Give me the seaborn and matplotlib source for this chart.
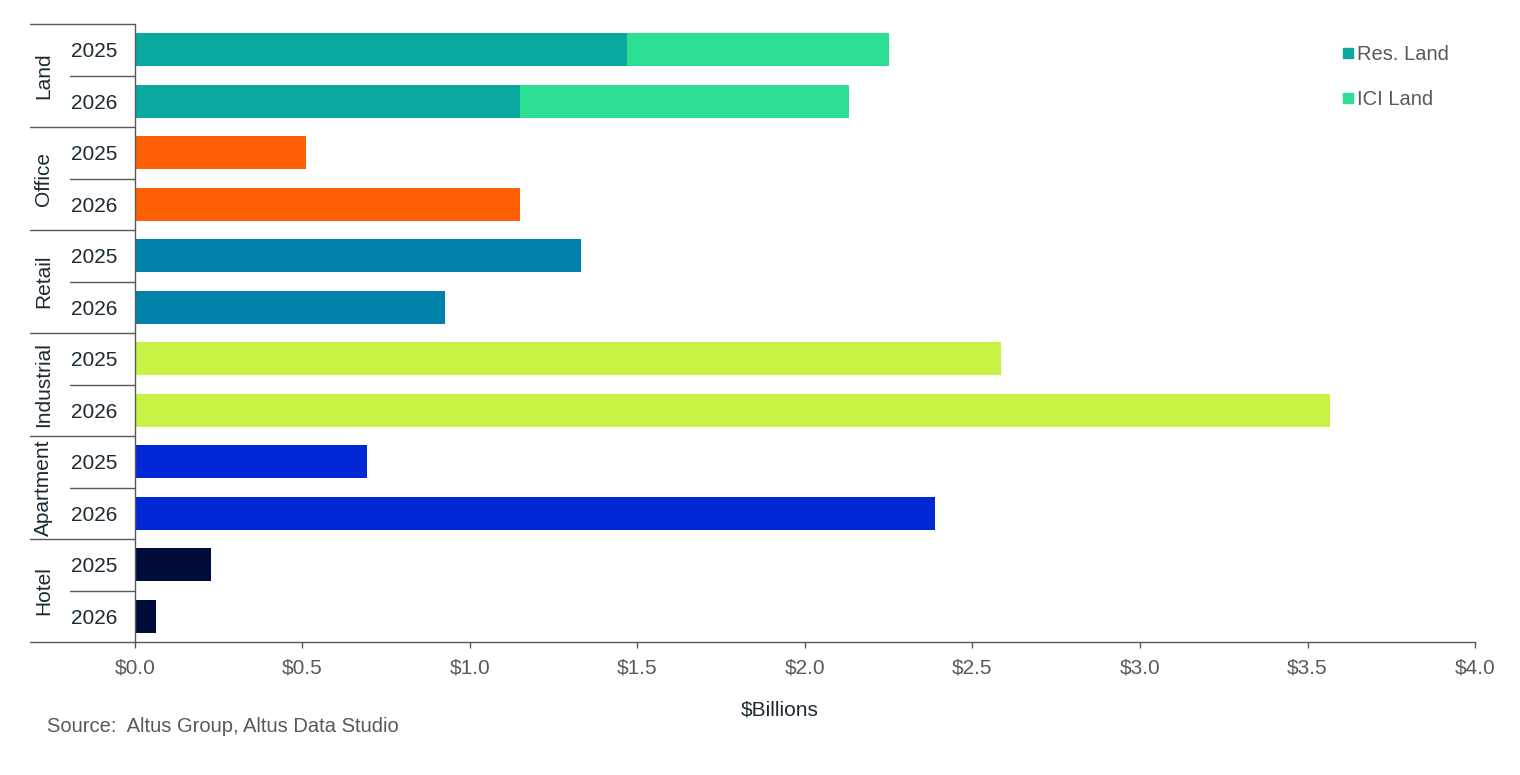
import matplotlib
matplotlib.use('Agg')
import matplotlib.pyplot as plt
import matplotlib.transforms as mtransforms
from matplotlib.lines import Line2D
import pandas as pd
import seaborn as sns

# Chart data ($ billions)
categories = ["Land", "Office", "Retail", "Industrial", "Apartment", "Hotel"]
years = ["2025", "2026"]
res_land = [1.47, 1.15]
ici_land = [0.78, 0.98]
office = [0.51, 1.15]
retail = [1.33, 0.925]
industrial = [2.585, 3.567]
apartment = [0.693, 2.388]
hotel = [0.227, 0.063]
x_ticks = [0.0, 0.5, 1.0, 1.5, 2.0, 2.5, 3.0, 3.5, 4.0]
x_tick_labels = ["$0.0", "$0.5", "$1.0", "$1.5", "$2.0", "$2.5", "$3.0", "$3.5", "$4.0"]

colors = {
    "Res. Land": "#0AA89E",
    "ICI Land": "#2DDF94",
    "Office": "#FF5F05",
    "Retail": "#0082AA",
    "Industrial": "#C8F244",
    "Apartment": "#0028D7",
    "Hotel": "#000C3A",
}

sns.set_theme(style="white")
plt.rcParams['font.family'] = ['Liberation Sans', 'DejaVu Sans']

# Build a tidy table: base segment and total per row
series = {"Land": res_land, "Office": office, "Retail": retail,
          "Industrial": industrial, "Apartment": apartment, "Hotel": hotel}
rows = []
for cat in categories:
    for i, yr in enumerate(years):
        base = series[cat][i]
        total = base + (ici_land[i] if cat == "Land" else 0.0)
        rows.append({"row": f"{cat} {yr}", "category": cat, "year": yr,
                     "base": base, "total": total})
df = pd.DataFrame(rows)
order = list(df["row"])

pal_total = {r: (colors["ICI Land"] if c == "Land" else colors[c])
             for r, c in zip(df["row"], df["category"])}
pal_base = {r: (colors["Res. Land"] if c == "Land" else colors[c])
            for r, c in zip(df["row"], df["category"])}

fig = plt.figure(figsize=(15.2, 7.75), dpi=100)
ax = fig.add_axes([0.0888, 0.1716, 0.8816, 0.7974])

# totals first (ICI colour for land), then the base segment on top
sns.barplot(data=df, x="total", y="row", hue="row", order=order, palette=pal_total,
            legend=False, width=0.64, saturation=1, linewidth=0, ax=ax)
sns.barplot(data=df, x="base", y="row", hue="row", order=order, palette=pal_base,
            legend=False, width=0.64, saturation=1, linewidth=0, ax=ax)

ax.set_xlim(0, 4.0)
ax.set_ylim(len(order) - 0.5, -0.5)
ax.set_xticks(x_ticks)
ax.set_xticklabels(x_tick_labels, fontsize=15, color="#595959")
ax.set_yticks(range(len(order)))
ax.set_yticklabels(list(df["year"]), fontsize=15, color="#1B2A33")
ax.tick_params(axis="y", length=0, pad=13)
ax.tick_params(axis="x", length=4, width=1, color="#595959", direction="out", bottom=True, pad=8)
ax.set_xlabel("$Billions", fontsize=15, color="#1B2A33", labelpad=16)
ax.xaxis.set_label_coords(0.481, -0.095)
ax.set_ylabel("")

for side in ["top", "right"]:
    ax.spines[side].set_visible(False)
for side in ["left", "bottom"]:
    ax.spines[side].set_color("#595959")
    ax.spines[side].set_linewidth(1)

# Two-level axis separators and category labels
trans = mtransforms.blended_transform_factory(ax.transAxes, ax.transData)
x_cat = -0.0784
x_year = -0.0485
for k in range(len(categories)):
    top = 2 * k - 0.5
    ax.plot([x_cat, 0], [top, top], color="#595959", lw=1, transform=trans, clip_on=False)
    ax.plot([x_year, 0], [top + 1, top + 1], color="#595959", lw=1, transform=trans, clip_on=False)
    ax.text(-0.0680, top + 1, categories[k], rotation=90, ha="center", va="center",
            fontsize=15, color="#1B2A33", transform=trans)
ax.plot([x_cat, 0], [len(order) - 0.5] * 2, color="#595959", lw=1, transform=trans, clip_on=False)

# Legend
handles = [Line2D([], [], marker="s", linestyle="", markersize=7, color=colors["Res. Land"]),
           Line2D([], [], marker="s", linestyle="", markersize=7, color=colors["ICI Land"])]
leg = ax.legend(handles, ["Res. Land", "ICI Land"], loc="upper left", frameon=False,
                fontsize=14.5, handlelength=0.6, handletextpad=0.15, labelspacing=1.3,
                bbox_to_anchor=(0.887, 0.995))
for t in leg.get_texts():
    t.set_color("#595959")

fig.text(47 / 1520, 1 - 727 / 775, "Source:  Altus Group, Altus Data Studio",
         fontsize=14.5, color="#595959", ha="left", va="center")

fig.savefig("out.png", dpi=100)
